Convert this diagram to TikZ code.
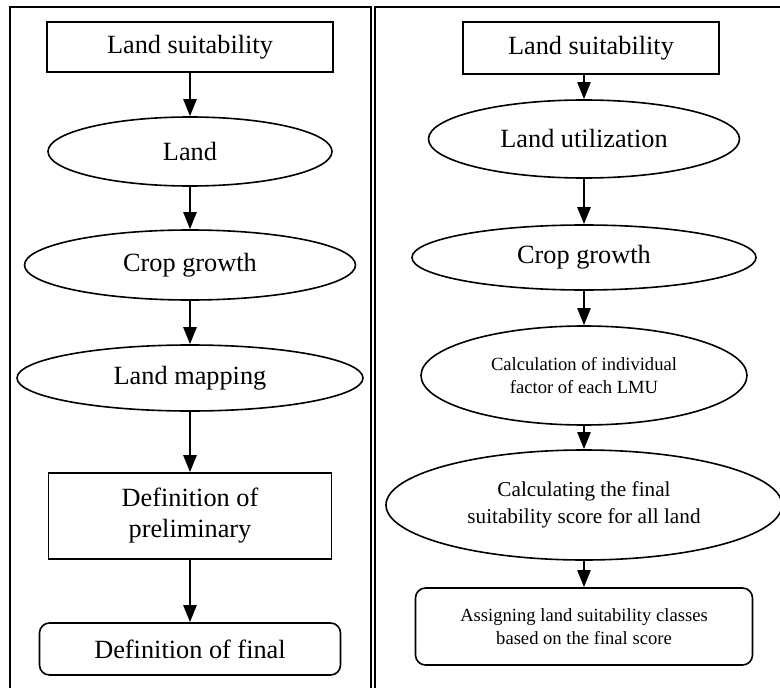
\documentclass[tikz,border=0pt]{standalone}
\usepackage{fontspec}
\setmainfont{Liberation Serif}
\usepackage{tikz}
\usetikzlibrary{positioning, shapes, arrows.meta, shapes.geometric}

\begin{document}
\begin{tikzpicture}[
    x=1pt, y=-1pt,
    % text sizes
    bigtext/.style={font=\fontsize{26.3}{31}\selectfont},
    midtext/.style={font=\fontsize{21.2}{27}\selectfont},
    smalltext/.style={font=\fontsize{18.6}{22.5}\selectfont},
    % flow chart shapes
    boxnode/.style={
        rectangle,
        draw=black,
        line width=1.6pt,
        inner sep=0pt,
        align=center
    },
    ovalnode/.style={
        ellipse,
        draw=black,
        line width=1.6pt,
        inner sep=0pt,
        align=center
    },
    roundnode/.style={boxnode, rounded corners=10pt},
    flowarrow/.style={
        line width=2.4pt,
        -{Triangle[length=17pt, width=13pt]}
    },
    frameline/.style={line width=2pt}
]
\useasboundingbox (0,0) rectangle (780,688);

% Panel frames
\draw[frameline] (10,688) -- (10,7) -- (371,7) -- (371,688);
\draw[frameline] (375,688) -- (375,7) -- (780,7);

% Left panel
\node (suitL) at (190,47) [boxnode, bigtext, minimum width=286, minimum height=50] {Land suitability};
\node (land) at (190,151.5) [ovalnode, bigtext, minimum width=284, minimum height=69] {Land};
\node (cropL) at (190,265) [ovalnode, bigtext, minimum width=331, minimum height=70] {Crop growth};
\node (mapping) at (190,378) [ovalnode, bigtext, minimum width=346, minimum height=66] {Land mapping};
\node (prelim) at (190,516) [boxnode, bigtext, minimum width=283, minimum height=86] {Definition of\\preliminary};
\node (finalL) at (190,649) [roundnode, bigtext, minimum width=301, minimum height=52] {Definition of final};

\draw[flowarrow] (suitL) -- (land);
\draw[flowarrow] (land) -- (cropL);
\draw[flowarrow] (cropL) -- (mapping);
\draw[flowarrow] (mapping) -- (prelim);
\draw[flowarrow] (prelim) -- (finalL);

% Right panel
\node (suitR) at (591,48) [boxnode, bigtext, minimum width=256, minimum height=52] {Land suitability};
\node (util) at (584,139) [ovalnode, bigtext, minimum width=311, minimum height=78] {Land utilization};
\node (cropR) at (584,257.5) [ovalnode, bigtext, minimum width=344, minimum height=65] {Crop growth};
\node (factor) at (584,375.5) [ovalnode, smalltext, minimum width=326, minimum height=99] {Calculation of individual\\factor of each LMU};
\node (score) at (584,505) [ovalnode, midtext, minimum width=396, minimum height=110] {Calculating the final\\suitability score for all land};
\node (classes) at (584,626.5) [roundnode, smalltext, minimum width=337, minimum height=77] {Assigning land suitability classes\\based on the final score};

\draw[flowarrow] (suitR.south -| util.north) -- (util.north);
\draw[flowarrow] (util) -- (cropR);
\draw[flowarrow] (cropR) -- (factor);
\draw[flowarrow] (factor) -- (score);
\draw[flowarrow] (score) -- (classes);
\end{tikzpicture}
\end{document}
